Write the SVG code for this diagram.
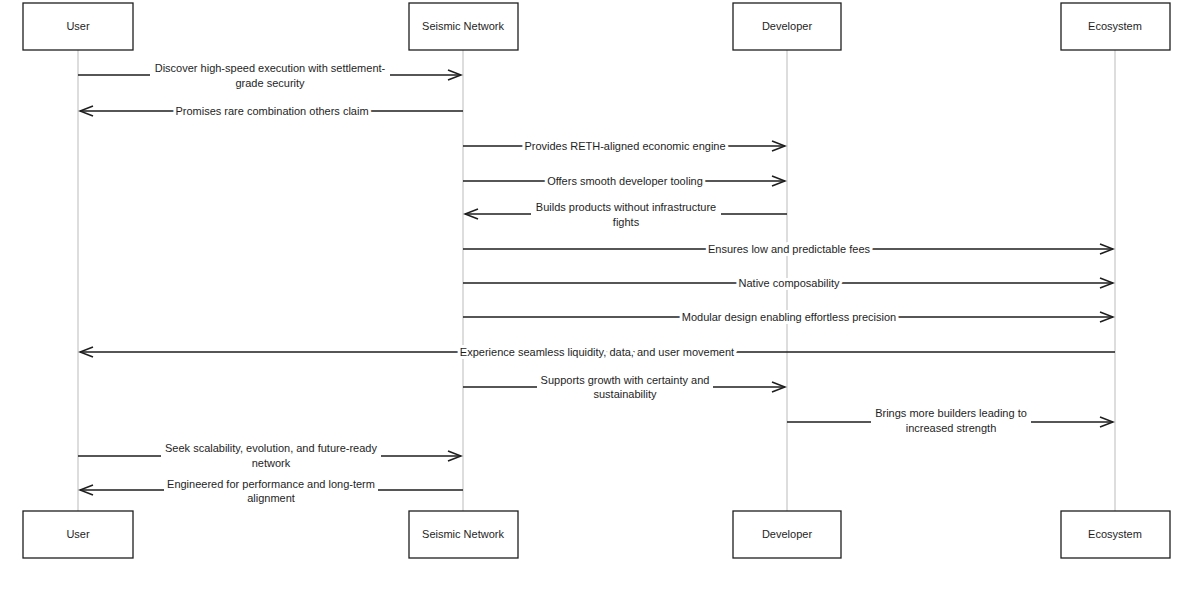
<svg xmlns="http://www.w3.org/2000/svg" width="1200" height="605" viewBox="0 0 1200 605">
<style>
.box{fill:#fff;stroke:#1e1e1e;stroke-width:1.3}
.life{stroke:#bbb;stroke-width:1}
.msg{stroke:#1e1e1e;stroke-width:1.6;fill:none}
.lb{fill:#fff}
text{font-family:"Liberation Sans",Arial,sans-serif;font-size:11px;fill:#1e1e1e;text-anchor:middle}
.bg{stroke:#fff;stroke-width:6;paint-order:stroke;stroke-linejoin:round}
</style>
<defs>
<marker id="a" markerWidth="16" markerHeight="12" refX="14" refY="6" orient="auto" markerUnits="userSpaceOnUse">
<path d="M1,1 L14,6 L1,11" fill="none" stroke="#1e1e1e" stroke-width="1.6"/>
</marker>
</defs>
<rect width="1200" height="605" fill="#fff"/>
<g id="lifelines">
<line class="life" x1="78" y1="50" x2="78" y2="511"/>
<line class="life" x1="463" y1="50" x2="463" y2="511"/>
<line class="life" x1="787" y1="50" x2="787" y2="511"/>
<line class="life" x1="1115" y1="50" x2="1115" y2="511"/>
</g>
<g id="user"><rect class="box" x="23" y="3" width="110" height="47"/><text x="78" y="30">User</text>
<rect class="box" x="23" y="511" width="110" height="47"/><text x="78" y="538">User</text></g>
<g id="seismic"><rect class="box" x="409" y="3" width="109" height="47"/><text x="463" y="30">Seismic Network</text>
<rect class="box" x="409" y="511" width="109" height="47"/><text x="463" y="538">Seismic Network</text></g>
<g id="developer"><rect class="box" x="733" y="3" width="108" height="47"/><text x="787" y="30">Developer</text>
<rect class="box" x="733" y="511" width="108" height="47"/><text x="787" y="538">Developer</text></g>
<g id="ecosystem"><rect class="box" x="1061" y="3" width="109" height="47"/><text x="1115" y="30">Ecosystem</text>
<rect class="box" x="1061" y="511" width="109" height="47"/><text x="1115" y="538">Ecosystem</text></g>
<g id="connectors">
<line class="msg" x1="78" y1="75" x2="461" y2="75" marker-end="url(#a)"/>
<line class="msg" x1="463" y1="111" x2="80" y2="111" marker-end="url(#a)"/>
<line class="msg" x1="463" y1="146" x2="785" y2="146" marker-end="url(#a)"/>
<line class="msg" x1="463" y1="181" x2="785" y2="181" marker-end="url(#a)"/>
<line class="msg" x1="787" y1="214" x2="465" y2="214" marker-end="url(#a)"/>
<line class="msg" x1="463" y1="249" x2="1113" y2="249" marker-end="url(#a)"/>
<line class="msg" x1="463" y1="283" x2="1113" y2="283" marker-end="url(#a)"/>
<line class="msg" x1="463" y1="317" x2="1113" y2="317" marker-end="url(#a)"/>
<line class="msg" x1="1115" y1="352" x2="80" y2="352" marker-end="url(#a)"/>
<line class="msg" x1="463" y1="387" x2="785" y2="387" marker-end="url(#a)"/>
<line class="msg" x1="787" y1="422" x2="1113" y2="422" marker-end="url(#a)"/>
<line class="msg" x1="78" y1="456" x2="461" y2="456" marker-end="url(#a)"/>
<line class="msg" x1="463" y1="490" x2="80" y2="490" marker-end="url(#a)"/>
</g>
<g id="labels">
<rect class="lb" x="150" y="62" width="240" height="28"/>
<rect class="lb" x="531" y="200" width="190" height="29"/>
<rect class="lb" x="537" y="373" width="176" height="29"/>
<rect class="lb" x="871" y="406" width="160" height="29"/>
<rect class="lb" x="161" y="441" width="220" height="29"/>
<rect class="lb" x="164" y="476" width="214" height="29"/>
<text class="bg" x="270" y="72">Discover high-speed execution with settlement-</text>
<text class="bg" x="270" y="87">grade security</text>
<text class="bg" x="272" y="115">Promises rare combination others claim</text>
<text class="bg" x="625" y="150">Provides RETH-aligned economic engine</text>
<text class="bg" x="625" y="185">Offers smooth developer tooling</text>
<text class="bg" x="626" y="211">Builds products without infrastructure</text>
<text class="bg" x="626" y="226">fights</text>
<text class="bg" x="789" y="253">Ensures low and predictable fees</text>
<text class="bg" x="789" y="287">Native composability</text>
<text class="bg" x="789" y="321">Modular design enabling effortless precision</text>
<text class="bg" x="597" y="356">Experience seamless liquidity, data, and user movement</text>
<text class="bg" x="625" y="384">Supports growth with certainty and</text>
<text class="bg" x="625" y="398">sustainability</text>
<text class="bg" x="951" y="417">Brings more builders leading to</text>
<text class="bg" x="951" y="432">increased strength</text>
<text class="bg" x="271" y="452">Seek scalability, evolution, and future-ready</text>
<text class="bg" x="271" y="467">network</text>
<text class="bg" x="271" y="488">Engineered for performance and long-term</text>
<text class="bg" x="271" y="502">alignment</text>
</g>
</svg>
